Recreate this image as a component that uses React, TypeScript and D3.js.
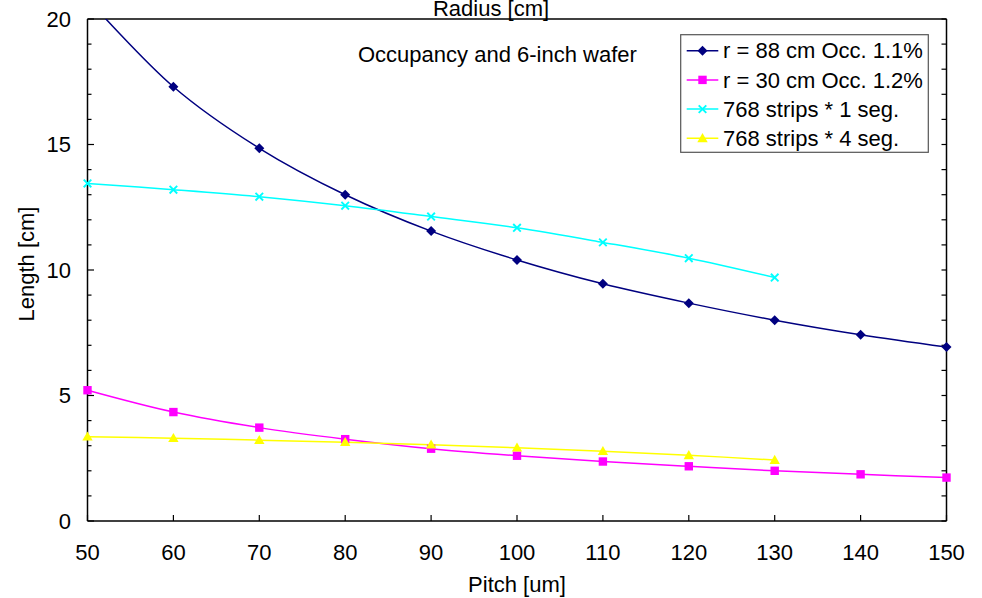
import React from "react";
import * as d3 from "d3";

const pitches = [50, 60, 70, 80, 90, 100, 110, 120, 130, 140, 150];
const pitches130 = [50, 60, 70, 80, 90, 100, 110, 120, 130];
const r88 = [20.8, 17.3, 14.85, 13.0, 11.55, 10.4, 9.45, 8.68, 8.0, 7.42, 6.93];
const r30 = [5.21, 4.34, 3.72, 3.26, 2.88, 2.6, 2.37, 2.18, 2.0, 1.86, 1.73];
const seg1 = [13.45, 13.2, 12.92, 12.56, 12.13, 11.68, 11.1, 10.47, 9.7];
const seg4 = [3.36, 3.3, 3.22, 3.14, 3.04, 2.92, 2.78, 2.62, 2.43];
const xTicks = [50, 60, 70, 80, 90, 100, 110, 120, 130, 140, 150];
const yTicks = [0, 5, 10, 15, 20];
const legendLabels = ["r = 88 cm Occ. 1.1%", "r = 30 cm Occ. 1.2%", "768 strips * 1 seg.", "768 strips * 4 seg."];
const colors = ["#000080", "#FF00FF", "#00FFFF", "#FFFF00"];

const W = 982, H = 598;
const left = 87.5, right = 946.5, top = 19, bottom = 521;
const FONT = "'Liberation Sans', Arial, sans-serif";

function Marker({ kind, x, y, color }: { kind: number; x: number; y: number; color: string }) {
  if (kind === 0) {
    const s = 5;
    return <path d={`M${x},${y - s}L${x + s},${y}L${x},${y + s}L${x - s},${y}Z`} fill={color} />;
  }
  if (kind === 1) {
    const s = 4.2;
    return <rect x={x - s} y={y - s} width={2 * s} height={2 * s} fill={color} />;
  }
  if (kind === 2) {
    const s = 3.8;
    return (
      <path d={`M${x - s},${y - s}L${x + s},${y + s}M${x - s},${y + s}L${x + s},${y - s}`} stroke={color} strokeWidth={1.9} fill="none" />
    );
  }
  const s = 5.2;
  return <path d={`M${x},${y - s}L${x + s},${y + s * 0.75}L${x - s},${y + s * 0.75}Z`} fill={color} />;
}

export default function App() {
  const x = d3.scaleLinear().domain([50, 150]).range([left, right]);
  const y = d3.scaleLinear().domain([0, 20]).range([bottom, top]);
  const line = d3
    .line<[number, number]>()
    .x((d) => x(d[0]))
    .y((d) => y(d[1]))
    .curve(d3.curveCatmullRom.alpha(0.5));

  const series = [
    { xs: pitches, ys: r88 },
    { xs: pitches, ys: r30 },
    { xs: pitches130, ys: seg1 },
    { xs: pitches130, ys: seg4 },
  ];
  const minor = d3.range(0, 21, 1);

  return (
    <svg width={W} height={H} style={{ position: "absolute", left: 0, top: 0 }} fontFamily={FONT}>
      <rect width={W} height={H} fill="#fff" />
      <defs>
        <clipPath id="plot">
          <rect x={left} y={top} width={right - left} height={bottom - top} />
        </clipPath>
      </defs>
      <line x1={left} x2={right} y1={top} y2={top} stroke="#000" strokeWidth={1.5} />
      <line x1={left} x2={right} y1={bottom} y2={bottom} stroke="#000" strokeWidth={1.5} />
      <line x1={left} x2={left} y1={top} y2={bottom} stroke="#000" strokeWidth={1.5} />
      <line x1={right} x2={right} y1={top} y2={bottom} stroke="#000" strokeWidth={1.5} />
      {minor.map((v) => (
        <line key={"lm" + v} x1={left} x2={left + (v % 5 === 0 ? 6.5 : 4)} y1={y(v)} y2={y(v)} stroke="#000" strokeWidth={1.2} />
      ))}
      {minor.map((v) => (
        <line key={"rm" + v} x1={right} x2={right - 5} y1={y(v)} y2={y(v)} stroke="#000" strokeWidth={1.2} />
      ))}
      {xTicks.map((v) => (
        <line key={"bt" + v} x1={x(v)} x2={x(v)} y1={bottom} y2={bottom - 6} stroke="#000" strokeWidth={1.2} />
      ))}
      {yTicks.map((v) => (
        <text key={"yl" + v} x={71} y={y(v)} dy="0.35em" textAnchor="end" fontSize={22} fill="#000">
          {v}
        </text>
      ))}
      {xTicks.map((v) => (
        <text key={"xl" + v} x={x(v)} y={559.5} textAnchor="middle" fontSize={22} fill="#000">
          {v}
        </text>
      ))}
      <text x={517} y={592} textAnchor="middle" fontSize={22} fill="#000">Pitch [um]</text>
      <text transform="translate(34,264) rotate(-90)" textAnchor="middle" fontSize={22} fill="#000">Length [cm]</text>
      <text x={491} y={15.5} textAnchor="middle" fontSize={22} fill="#000">Radius [cm]</text>
      <text x={358} y={61.5} fontSize={22} fill="#000">Occupancy and 6-inch wafer</text>
      <g clipPath="url(#plot)">
        {series.map((s, i) => (
          <path
            key={"l" + i}
            d={line(s.xs.map((v, j) => [v, s.ys[j]] as [number, number])) || ""}
            fill="none"
            stroke={colors[i]}
            strokeWidth={1.5}
          />
        ))}
      </g>
      {series.map((s, i) => (
        <g key={"m" + i}>
          {s.xs.map((v, j) =>
            s.ys[j] <= 20 ? <Marker key={j} kind={i} x={x(v)} y={y(s.ys[j])} color={colors[i]} /> : null
          )}
        </g>
      ))}
      <rect x={680.7} y={34.7} width={247.6} height={117.6} fill="#fff" stroke="#555" strokeWidth={1.2} />
      {legendLabels.map((lab, i) => {
        const cy = 50.7 + i * 29.2;
        return (
          <g key={"lg" + i}>
            <line x1={686.7} x2={718.3} y1={cy} y2={cy} stroke={colors[i]} strokeWidth={1.5} />
            <Marker kind={i} x={702.5} y={cy} color={colors[i]} />
            <text x={723} y={cy} dy="0.35em" fontSize={22} fill="#000">
              {lab}
            </text>
          </g>
        );
      })}
    </svg>
  );
}
